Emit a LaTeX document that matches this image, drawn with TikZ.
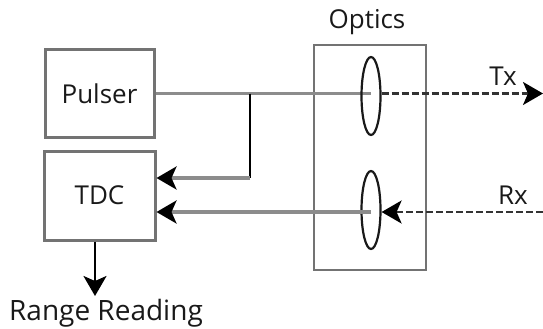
\documentclass[tikz,border=0pt]{standalone}
\usepackage{fontspec}
\setmainfont{Open Sans}
\usetikzlibrary{shapes.geometric,arrows.meta}
\begin{document}
\begin{tikzpicture}[x=1pt,y=-1pt,
  box/.style={draw=black!55,line width=3pt,rectangle,inner sep=0pt},
  lens/.style={draw=black!90,line width=2.2pt,ellipse,inner sep=0pt,minimum width=19pt,minimum height=78pt},
  gline/.style={draw=black!45,line width=3.2pt},
  dline/.style={draw=black!80,line width=2.2pt,dash pattern=on 7pt off 3pt},
  tip/.style={-{Stealth[length=20pt,width=23pt,inset=5pt,black]}},
  lbl/.style={font=\fontsize{26}{30}\selectfont,text=black!90,inner sep=0pt}]
\useasboundingbox (0,0) rectangle (543,329);
\node[box,minimum width=109pt,minimum height=87pt] (pulser) at (99.5,93.5) {};
\node[lbl] (pulsertxt) at (pulser.center) {Pulser};
\node[box,minimum width=111pt,minimum height=89pt] (tdc) at (99.5,195.5) {};
\node[lbl] (tdctxt) at (tdc.center) {TDC};
\node[box,line width=2.4pt,minimum width=112pt,minimum height=225pt] (optics) at (370,157.5) {};
\node[lbl] (opticstxt) at (367,22) {Optics};
\coordinate (j1) at (250,93.5);
\coordinate (j2) at (250,178);
\coordinate (txend) at (543,93.5);
\coordinate (rxstart) at (543,212);
\coordinate (rrend) at (95,296);
\node[lbl] (txlbl) at (503,76) {Tx};
\node[lbl] (rxlbl) at (513,195) {Rx};
\node[lbl,font=\fontsize{28}{32}\selectfont,anchor=north] (range) at (106,299) {Range Reading};
% lines
\draw[gline] (pulser.east) -- (371,93.5) coordinate (l1c);
\draw[draw=black,line width=2.4pt] (j1) -- (j2);
\node[lens] (lens1) at (371,96) {};
\node[lens] (lens2) at (371,210) {};
\draw[gline,tip] (371,212) coordinate (l2c) -- (tdc.east |- l2c);
\draw[gline,tip] (j2) -- (tdc.east |- j2);
\draw[dline,tip] (lens1.east |- l1c) -- (txend);
\draw[dline,tip] (rxstart) -- (lens2.east |- rxstart);
\draw[draw=black,line width=2.4pt,tip] (tdc.south -| rrend) -- (rrend);
\end{tikzpicture}
\end{document}
